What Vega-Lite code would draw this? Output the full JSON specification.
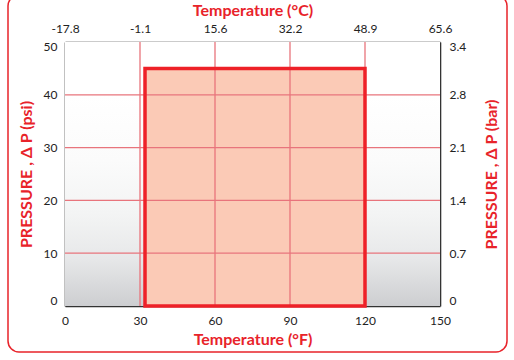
{
  "$schema": "https://vega.github.io/schema/vega-lite/v6.json",
  "width": 375,
  "height": 264,
  "autosize": {"type": "none"},
  "padding": {"left": 65, "top": 42, "right": 74, "bottom": 54},
  "background": "white",
  "config": {
    "view": {"stroke": null},
    "font": "Lato",
    "axis": {
      "grid": false,
      "ticks": false,
      "domainColor": "#333333",
      "domainWidth": 1.6,
      "labelFont": "Lato",
      "labelFontSize": 12,
      "labelColor": "#222222",
      "titleFont": "Lato",
      "titleFontSize": 16,
      "titleFontWeight": "bold",
      "titleColor": "#e8232a",
      "zindex": 1
    }
  },
  "datasets": {
    "range": [{"t_start": 32, "t_end": 120, "p_low": 0, "p_high": 45}],
    "xgrid": [{"f": 30}, {"f": 60}, {"f": 90}, {"f": 120}],
    "ygrid": [{"psi": 10}, {"psi": 20}, {"psi": 30}, {"psi": 40}],
    "one": [{"k": 1}]
  },
  "layer": [
    {
      "layer": [
        {
          "data": {"name": "one"},
          "mark": {
            "type": "rect",
            "fill": {
              "gradient": "linear",
              "x1": 0, "y1": 0, "x2": 0, "y2": 1,
              "stops": [
                {"offset": 0, "color": "#ffffff"},
                {"offset": 0.2, "color": "#ffffff"},
                {"offset": 0.45, "color": "#fbfbfb"},
                {"offset": 0.65, "color": "#f3f4f4"},
                {"offset": 0.82, "color": "#e7e8e9"},
                {"offset": 1, "color": "#cdced1"}
              ]
            }
          },
          "encoding": {
            "x": {"datum": 0, "type": "quantitative", "scale": {"domain": [0, 150], "nice": false},
              "axis": {"orient": "bottom", "values": [0, 30, 60, 90, 120, 150], "title": "Temperature (°F)", "labelPadding": 9, "titlePadding": 5, "labelFlush": false}},
            "x2": {"datum": 150},
            "y": {"datum": 0, "type": "quantitative", "scale": {"domain": [0, 50], "nice": false},
              "axis": {"orient": "left", "values": [0, 10, 20, 30, 40, 50], "title": "PRESSURE , Δ P (psi)", "labelPadding": 8, "titlePadding": 9, "labelFlush": true, "labelFlushOffset": 1}},
            "y2": {"datum": 50}
          }
        },
        {
          "data": {"name": "range"},
          "mark": {"type": "rect", "fill": "#fbcab6"},
          "encoding": {
            "x": {"field": "t_start", "type": "quantitative", "scale": {"domain": [0, 150], "nice": false}},
            "x2": {"field": "t_end"},
            "y": {"field": "p_low", "type": "quantitative", "scale": {"domain": [0, 50], "nice": false}},
            "y2": {"field": "p_high"}
          }
        },
        {
          "data": {"name": "xgrid"},
          "mark": {"type": "rule", "color": "#e8747c", "strokeWidth": 1.3},
          "encoding": {"x": {"field": "f", "type": "quantitative", "scale": {"domain": [0, 150], "nice": false}}}
        },
        {
          "data": {"name": "ygrid"},
          "mark": {"type": "rule", "color": "#e8747c", "strokeWidth": 1.3},
          "encoding": {"y": {"field": "psi", "type": "quantitative", "scale": {"domain": [0, 50], "nice": false}}}
        },
        {
          "data": {"name": "range"},
          "mark": {"type": "rect", "fill": null, "stroke": "#ee2128", "strokeWidth": 3.5},
          "encoding": {
            "x": {"field": "t_start", "type": "quantitative", "scale": {"domain": [0, 150], "nice": false}},
            "x2": {"field": "t_end"},
            "y": {"field": "p_low", "type": "quantitative", "scale": {"domain": [0, 50], "nice": false}},
            "y2": {"field": "p_high"}
          }
        }
      ]
    },
    {
      "data": {"name": "one"},
      "mark": {"type": "rect", "fill": null, "stroke": "#e8232a", "strokeWidth": 1.5, "cornerRadius": 11, "clip": false},
      "encoding": {
        "x": {"datum": -22.8, "type": "quantitative", "scale": {"domain": [0, 150], "nice": false},
          "axis": {"orient": "top", "values": [0, 30, 60, 90, 120, 150], "title": "Temperature (°C)", "labelFlush": false,
            "labelExpr": "replace(format((datum.value - 32) * 5 / 9, '.1f'), '\u2212', '-')", "labelPadding": 7, "titlePadding": 4}},
        "x2": {"datum": 176.8},
        "y": {"datum": -8.7, "type": "quantitative", "scale": {"domain": [0, 50], "nice": false},
          "axis": {"orient": "right", "values": [0, 10, 20, 30, 40, 50], "title": "PRESSURE , Δ P (bar)", "labelFlush": true, "labelFlushOffset": 1,
            "labelExpr": "datum.value == 0 ? '0' : format(datum.value * 0.0689476, '.1f')", "labelPadding": 9, "titlePadding": 34, "titleAngle": 270}},
        "y2": {"datum": 58.9}
      }
    }
  ],
  "resolve": {"scale": {"x": "independent", "y": "independent"}}
}
